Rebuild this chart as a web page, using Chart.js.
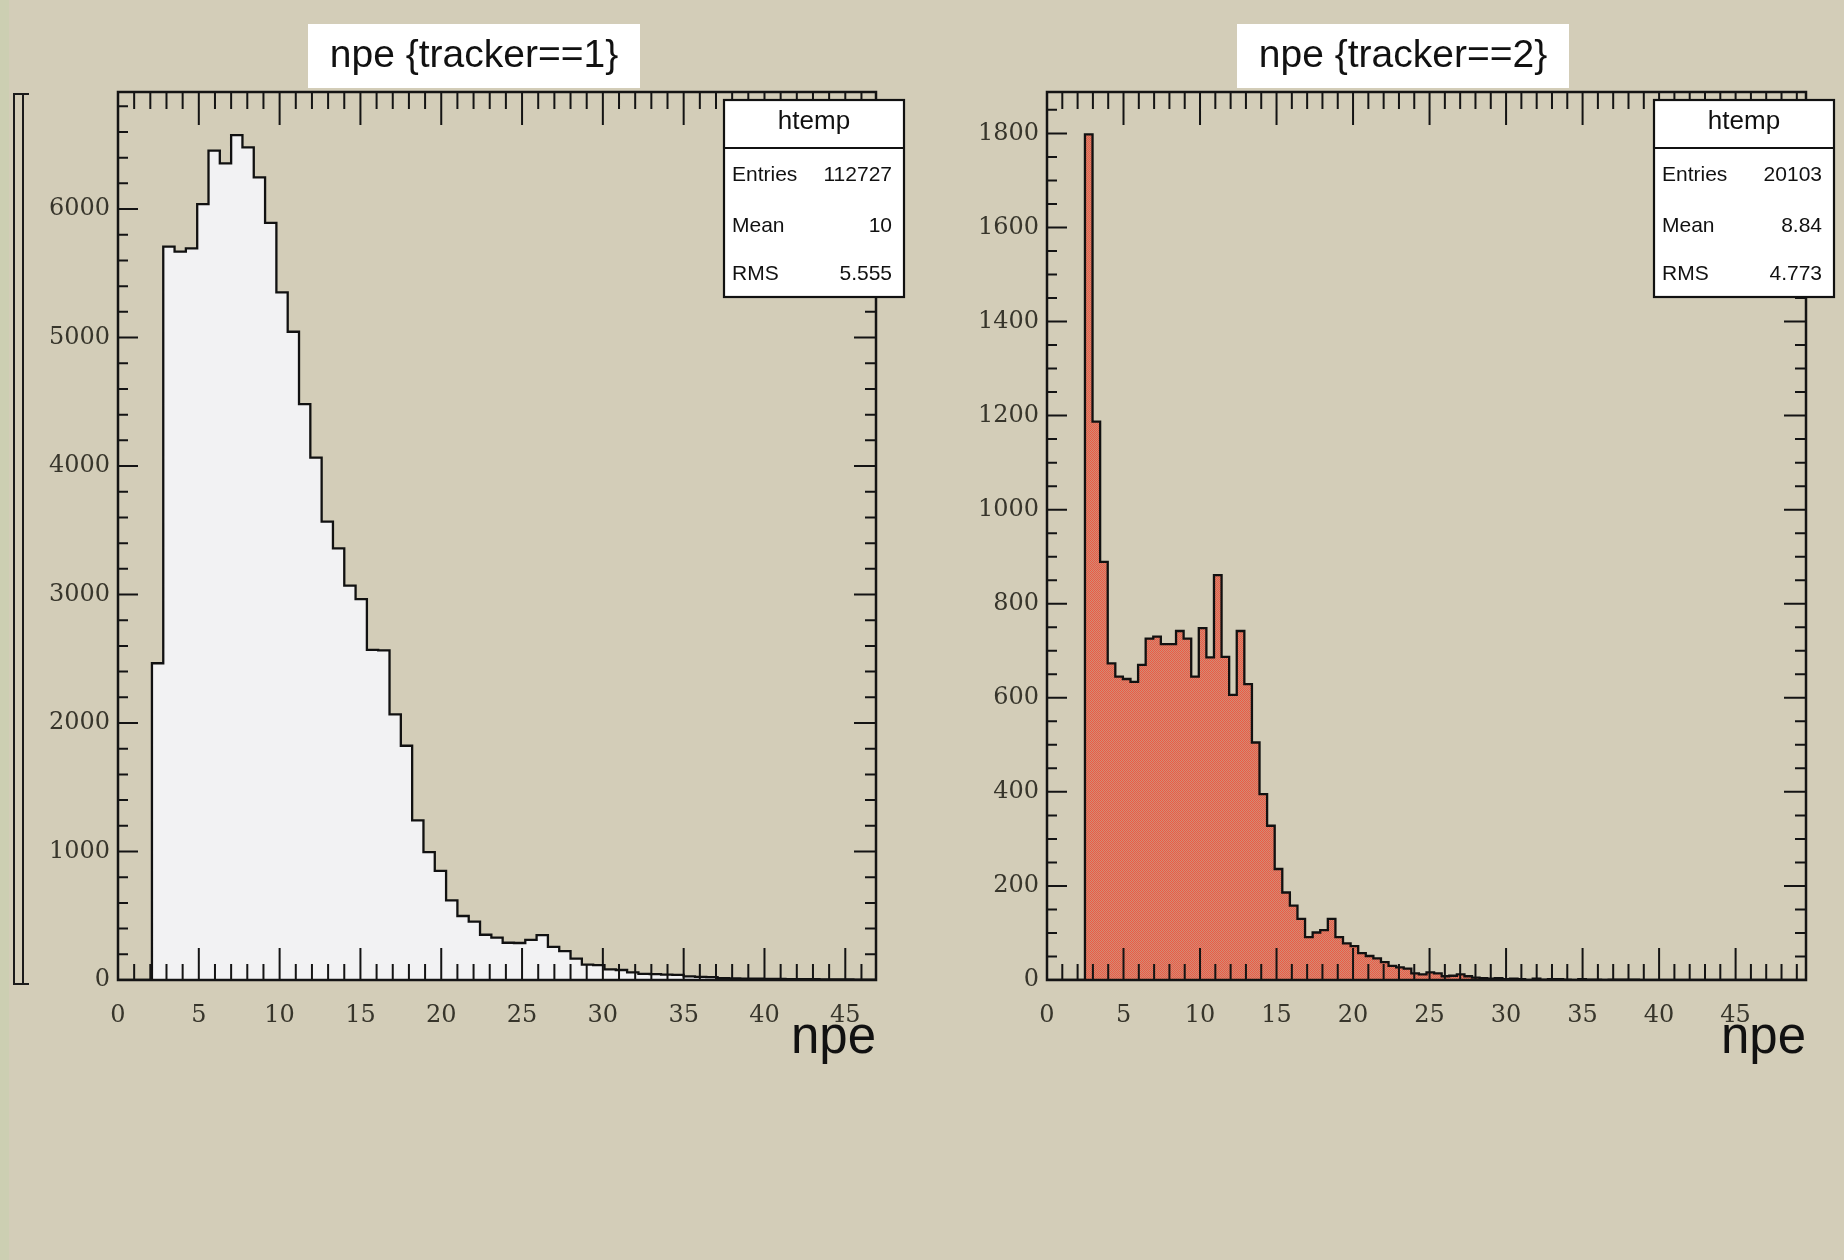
<!DOCTYPE html>
<html>

<head>
    <meta charset="UTF-8">
    <title>npe by tracker</title>
    <script src="https://cdn.jsdelivr.net/npm/chart.js"></script>
    <style>
        body { margin: 0; background: #d3cdb8; }
        #page { position: relative; width: 1844px; height: 1260px; overflow: hidden; background: #d3cdb8; }
        #edge { position: absolute; left: 0; top: 0; width: 9px; height: 1260px; background: #cccfb2; }
        .pane { position: absolute; top: 0; }
    </style>
</head>

<body>
    <div id="page">
        <div id="edge"></div>
        <canvas class="pane" id="tracker1" width="922" height="1260" style="left:0"></canvas>
        <canvas class="pane" id="tracker2" width="922" height="1260" style="left:922px"></canvas>
    </div>

    <script>
        // tracker 1: 0.7 wide bins, axis shown 0 - 46.9
        const t1BinWidth = 0.7;
        const t1XMax = 46.9;
        const t1YMax = 6911;
        const t1Counts = [
            0, 0, 0, 2465, 5707, 5668, 5694, 6039, 6454, 6356,
            6576, 6480, 6247, 5893, 5352, 5045, 4482, 4065, 3567, 3359,
            3070, 2964, 2570, 2565, 2068, 1823, 1243, 995, 850, 620,
            498, 454, 352, 330, 290, 288, 312, 350, 258, 225,
            166, 120, 115, 82, 78, 60, 48, 45, 42, 40,
            28, 25, 22, 14, 12, 11, 10, 9, 8, 7,
            6, 6, 5, 4, 4, 3, 3
        ];
        const t1XTicks = [0, 5, 10, 15, 20, 25, 30, 35, 40, 45];
        const t1YTicks = [0, 1000, 2000, 3000, 4000, 5000, 6000];
        const t1Title = "npe {tracker==1}";
        const t1Stats = [["Entries", "112727"], ["Mean", "10"], ["RMS", "5.555"]];

        // tracker 2: 100 bins over 0 - 49.6
        const t2BinWidth = 0.496;
        const t2XMax = 49.6;
        const t2YMax = 1888;
        const t2Counts = [
            0, 0, 0, 0, 0, 1798, 1187, 889, 673, 645,
            640, 634, 670, 726, 730, 714, 714, 742, 726, 645,
            748, 686, 861, 687, 606, 742, 629, 505, 395, 328,
            236, 186, 158, 130, 91, 101, 106, 130, 91, 78,
            72, 57, 51, 46, 38, 30, 27, 24, 14, 12,
            16, 14, 8, 9, 12, 8, 5, 4, 3, 4,
            2, 3, 2, 0, 3, 1, 2, 2, 1, 0,
            2, 1, 1, 0, 1, 1, 1, 1, 0, 0,
            0, 0, 0, 0, 0, 0, 0, 0, 0, 0,
            0, 0, 0, 0, 0, 0, 0, 0, 0, 0
        ];
        const t2XTicks = [0, 5, 10, 15, 20, 25, 30, 35, 40, 45];
        const t2YTicks = [0, 200, 400, 600, 800, 1000, 1200, 1400, 1600, 1800];
        const t2Title = "npe {tracker==2}";
        const t2Stats = [["Entries", "20103"], ["Mean", "8.84"], ["RMS", "4.773"]];

        const axisTitle = "npe";
        const histName = "htemp";

        const SANS = "'Liberation Sans', Arial, Helvetica, sans-serif";
        const SERIF = "'DejaVu Serif', serif";
        const LABEL_COLOR = "#37352b";

        // one point per bin low edge, plus the closing edge
        const stepPoints = (counts, width, xMax) => {
            const pts = counts.map((c, i) => ({ x: +(i * width).toFixed(3), y: c }));
            pts.push({ x: xMax, y: counts[counts.length - 1] });
            return pts;
        };

        // fine dotted fill like the ROOT hatch style
        const dotPattern = () => {
            const c = document.createElement("canvas");
            c.width = 2;
            c.height = 2;
            const g = c.getContext("2d");
            g.fillStyle = "rgb(233,92,70)";
            g.fillRect(0, 0, 2, 2);
            g.fillStyle = "rgb(212,138,116)";
            g.fillRect(1, 0, 1, 1);
            g.fillRect(0, 1, 1, 1);
            return g.createPattern(c, "repeat");
        };

        // frame, inside ticks on all four sides, title and stats boxes
        const rootFrame = {
            id: "rootFrame",
            afterDatasetsDraw(chart, args, o) {
                const { ctx, chartArea: a, scales: { x, y } } = chart;
                ctx.save();
                ctx.strokeStyle = "#141414";
                ctx.lineWidth = 2;
                ctx.beginPath();
                for (let i = 0; i <= Math.floor(o.xMax); i++) {
                    const px = x.getPixelForValue(i);
                    const major = o.xTicks.includes(i);
                    ctx.moveTo(px, a.bottom);
                    ctx.lineTo(px, a.bottom - (major ? 32 : 16));
                    ctx.moveTo(px, a.top);
                    ctx.lineTo(px, a.top + (major ? 33 : 17));
                }
                for (let v = 0; v <= o.yMax; v += o.yMinor) {
                    const py = y.getPixelForValue(v);
                    const major = o.yTicks.includes(v);
                    ctx.moveTo(a.left, py);
                    ctx.lineTo(a.left + (major ? 20 : 10), py);
                    ctx.moveTo(a.right, py);
                    ctx.lineTo(a.right - (major ? 22 : 11), py);
                }
                ctx.stroke();
                ctx.lineWidth = 2.5;
                ctx.strokeRect(a.left, a.top, a.right - a.left, a.bottom - a.top);
                ctx.restore();
            },
            afterDraw(chart, args, o) {
                const { ctx, chartArea: a } = chart;
                ctx.save();

                // pad title
                const tx = a.left + 190;
                ctx.fillStyle = "#ffffff";
                ctx.fillRect(tx, 24, 332, 64);
                ctx.fillStyle = "#111";
                ctx.font = `39px ${SANS}`;
                ctx.textAlign = "center";
                ctx.textBaseline = "alphabetic";
                ctx.fillText(o.title, tx + 166, 67);

                // stats box
                const bx = a.right - 152, bw = 180, by = 100, bh = 197;
                ctx.fillStyle = "#ffffff";
                ctx.fillRect(bx, by, bw, bh);
                ctx.strokeStyle = "#111";
                ctx.lineWidth = 2.2;
                ctx.strokeRect(bx, by, bw, bh);
                ctx.beginPath();
                ctx.moveTo(bx, by + 48);
                ctx.lineTo(bx + bw, by + 48);
                ctx.stroke();
                ctx.fillStyle = "#111";
                ctx.font = `26px ${SANS}`;
                ctx.fillText(histName, bx + bw / 2, 129);
                ctx.font = `21px ${SANS}`;
                const rows = [181, 232, 280];
                o.stats.forEach(([k, v], i) => {
                    ctx.textAlign = "left";
                    ctx.fillText(k, bx + 8, rows[i]);
                    ctx.textAlign = "right";
                    ctx.fillText(v, bx + bw - 12, rows[i]);
                });

                // axis title
                ctx.font = `51px ${SANS}`;
                ctx.textAlign = "right";
                ctx.fillText(axisTitle, a.right, 1053);

                // leftover bracket at the canvas edge
                if (o.bracket) {
                    ctx.strokeStyle = "#1a1a1a";
                    ctx.lineWidth = 2;
                    ctx.beginPath();
                    ctx.moveTo(14, 94); ctx.lineTo(14, 984);
                    ctx.moveTo(23, 94); ctx.lineTo(23, 984);
                    ctx.moveTo(13, 94); ctx.lineTo(29, 94);
                    ctx.moveTo(13, 984); ctx.lineTo(29, 984);
                    ctx.stroke();
                }
                ctx.restore();
            }
        };

        const histChart = (id, p) => {
            const ctx = document.getElementById(id).getContext("2d");
            return new Chart(ctx, {
                type: "line",
                data: {
                    datasets: [{
                        data: stepPoints(p.counts, p.binWidth, p.xMax),
                        stepped: true,
                        borderColor: "#111",
                        borderWidth: 2.3,
                        backgroundColor: p.fill,
                        fill: "origin",
                        pointRadius: 0,
                        tension: 0
                    }]
                },
                options: {
                    responsive: false,
                    animation: false,
                    layout: { padding: { left: 0, right: p.padRight, top: 92, bottom: 220 } },
                    scales: {
                        x: {
                            type: "linear",
                            min: 0,
                            max: p.xMax,
                            grid: { display: false, drawTicks: false },
                            border: { display: false },
                            afterFit: s => { s.height = 60; },
                            afterBuildTicks: s => { s.ticks = p.xTicks.map(v => ({ value: v })); },
                            ticks: {
                                autoSkip: false,
                                maxRotation: 0,
                                padding: 21,
                                color: LABEL_COLOR,
                                font: { family: SERIF, size: 24 },
                                callback: v => String(v)
                            }
                        },
                        y: {
                            min: 0,
                            max: p.yMax,
                            grid: { display: false, drawTicks: false },
                            border: { display: false },
                            afterFit: s => { s.width = p.axisWidth; },
                            afterBuildTicks: s => { s.ticks = p.yTicks.map(v => ({ value: v })); },
                            ticks: {
                                autoSkip: false,
                                padding: 8,
                                color: LABEL_COLOR,
                                font: { family: SERIF, size: 24 },
                                callback: v => String(v)
                            }
                        }
                    },
                    plugins: {
                        legend: { display: false },
                        tooltip: { enabled: false },
                        rootFrame: {
                            xMax: p.xMax, yMax: p.yMax, xTicks: p.xTicks, yTicks: p.yTicks,
                            yMinor: p.yMinor, title: p.title, stats: p.stats, bracket: p.bracket
                        }
                    }
                },
                plugins: [rootFrame]
            });
        };

        histChart("tracker1", {
            counts: t1Counts, binWidth: t1BinWidth, xMax: t1XMax, yMax: t1YMax,
            xTicks: t1XTicks, yTicks: t1YTicks, yMinor: 200,
            fill: "#f2f2f3", title: t1Title, stats: t1Stats,
            axisWidth: 118, padRight: 46, bracket: true
        });

        histChart("tracker2", {
            counts: t2Counts, binWidth: t2BinWidth, xMax: t2XMax, yMax: t2YMax,
            xTicks: t2XTicks, yTicks: t2YTicks, yMinor: 50,
            fill: dotPattern(), title: t2Title, stats: t2Stats,
            axisWidth: 125, padRight: 38, bracket: false
        });
    </script>
</body>

</html>
